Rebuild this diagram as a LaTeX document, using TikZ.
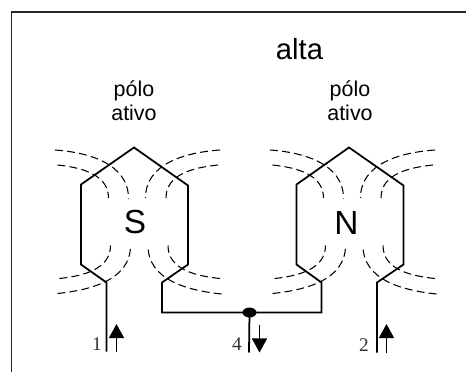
\documentclass[tikz,border=0pt]{standalone}
\usepackage{fontspec}
\setmainfont{Liberation Sans}
\newfontfamily\numfont{Liberation Serif}
\usetikzlibrary{arrows.meta, shapes.geometric}

\begin{document}
\begin{tikzpicture}[
        wire/.style={line width=1pt, line join=miter},
        fieldline/.style={line width=0.6pt, dash pattern=on 4.5pt off 2.4pt},
        flow/.style={-{Triangle[length=8pt, width=8.5pt]}, line width=1pt},
        poletext/.style={font=\fontsize{12.2}{13.7}\selectfont, align=center},
        numtext/.style={font=\numfont\fontsize{11}{12}\selectfont, text=black!80}
    ]
        \useasboundingbox (0,0) rectangle (9.32,7.44);

        % Frame
        \coordinate (framebottom) at (0.23,0);
        \coordinate (framecorner) at (0.23,7.2);
        \coordinate (frameright) at (9.32,7.2);
        \draw[line width=1pt, black!85] (framebottom) -- (framecorner) -- (frameright);

        % Titles
        \node[font=\fontsize{16.6}{18}\selectfont, anchor=base] (title) at (5.99,6.26) {alta};
        \node[poletext] (activeS) at (2.68,5.43) {pólo\\ativo};
        \node[poletext] (activeN) at (7.00,5.43) {pólo\\ativo};

        % Pole letters
        \node[font=\fontsize{19}{21}\selectfont] (poleS) at (2.70,3.0) {S};
        \node[font=\fontsize{19}{21}\selectfont] (poleN) at (6.93,2.97) {N};

        % Junction
        \node[ellipse, fill=black, inner sep=0pt, minimum width=0.28cm, minimum height=0.2cm] (junction) at (4.99,1.19) {};

        % Winding S
        \coordinate (feedS) at (2.13,0.41);
        \coordinate (linkS) at (3.24,1.19);
        \draw[wire] (feedS) -- (2.13,1.79) -- (1.62,2.15) -- (1.62,3.75) -- (2.68,4.49)
            -- (3.76,3.73) -- (3.76,2.15) -- (3.24,1.79) -- (linkS) -- (junction.center);

        % Winding N
        \coordinate (feedN) at (7.54,0.39);
        \coordinate (linkN) at (6.43,1.19);
        \draw[wire] (junction.center) -- (linkN) -- (6.43,1.79) -- (5.93,2.15) -- (5.93,3.75) -- (6.98,4.49)
            -- (8.07,3.73) -- (8.07,2.15) -- (7.54,1.79) -- (feedN);

        % Return wire
        \coordinate (feedR) at (4.98,0.39);
        \draw[wire] (junction.center) -- (feedR);

        % Field lines
        \foreach \polex in {2.68,6.98} {
            \begin{scope}[xshift=\polex cm]
                \draw[fieldline] (-1.58,4.44) to[out=-4,in=90] (-0.11,3.47);
                \draw[fieldline] (-1.53,4.14) to[out=-6,in=90] (-0.51,3.48);
                \draw[fieldline] (1.72,4.44) to[out=184,in=90] (0.23,3.48);
                \draw[fieldline] (1.68,4.14) to[out=186,in=90] (0.64,3.48);
                \draw[fieldline] (-1.53,1.57) to[out=6,in=-90] (-0.07,2.53);
                \draw[fieldline] (-1.49,1.87) to[out=6,in=-90] (-0.47,2.53);
                \draw[fieldline] (1.75,1.56) to[out=174,in=-90] (0.28,2.53);
                \draw[fieldline] (1.72,1.87) to[out=174,in=-90] (0.68,2.53);
            \end{scope}
        }

        % Current arrows
        \coordinate (startA) at (2.33,0.40);
        \coordinate (endA) at (2.33,0.96);
        \coordinate (startB) at (7.73,0.39);
        \coordinate (endB) at (7.73,0.96);
        \coordinate (startC) at (5.19,0.95);
        \coordinate (endC) at (5.19,0.39);
        \draw[flow] (startA) -- (endA);
        \draw[flow] (startB) -- (endB);
        \draw[flow] (startC) -- (endC);

        % Current labels
        \node[numtext] (labelA) at (1.94,0.56) {1};
        \node[numtext] (labelC) at (4.74,0.56) {4};
        \node[numtext] (labelB) at (7.28,0.54) {2};
    \end{tikzpicture}
\end{document}
